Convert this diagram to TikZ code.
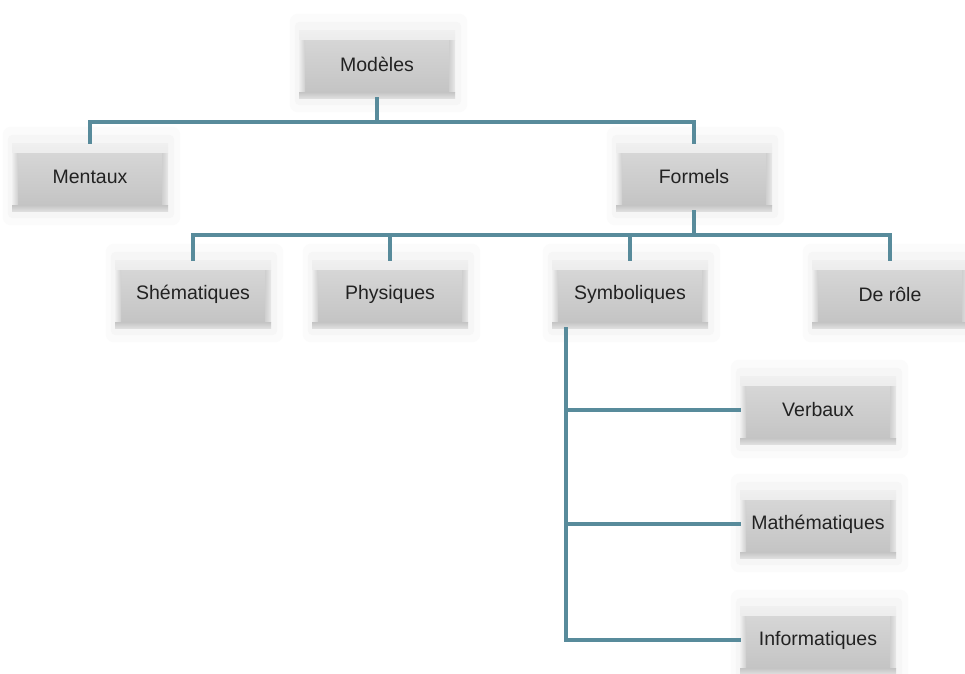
\documentclass[tikz,border=0pt]{standalone}
\usepackage{fontspec}
\setmainfont{Liberation Sans}
\usetikzlibrary{calc,backgrounds}
\definecolor{linkcol}{RGB}{88,139,155}
\definecolor{facetop}{RGB}{214,214,214}
\definecolor{facebot}{RGB}{196,196,196}
\definecolor{rimtop}{RGB}{240,240,240}
\definecolor{glowA}{RGB}{251,251,251}
\definecolor{glowB}{RGB}{246,246,246}
\definecolor{inktext}{RGB}{34,34,34}
\tikzset{
  box/.style={rectangle, minimum width=156pt, minimum height=68pt, inner sep=0pt,
    fill=facebot, text=inktext, font=\fontsize{19.5}{24}\selectfont,
    path picture={
      % bevelled face: bright top and left rims, lighter right rim, soft bottom rim
      \shade[top color=rimtop, bottom color=facetop]
        (path picture bounding box.north west) rectangle
        ($(path picture bounding box.north east)+(0,-10pt)$);
      \shade[top color=facetop, bottom color=facebot]
        ($(path picture bounding box.north west)+(6pt,-10pt)$) rectangle
        ($(path picture bounding box.south east)+(-6pt,6pt)$);
      \shade[left color=rimtop, right color=facetop!60!facebot]
        ($(path picture bounding box.north west)+(0,-10pt)$) rectangle
        ($(path picture bounding box.south west)+(6pt,6pt)$);
      \shade[left color=facetop!60!facebot, right color=rimtop!70!facetop]
        ($(path picture bounding box.north east)+(-6pt,-10pt)$) rectangle
        ($(path picture bounding box.south east)+(0,6pt)$);
      \shade[top color=facebot, bottom color=rimtop!60!facebot]
        ($(path picture bounding box.south west)+(0,6pt)$) rectangle
        (path picture bounding box.south east);
    }},
  link/.style={draw=linkcol, line width=3.3pt, line cap=rect}
}
% a box with its pale halo behind it
\newcommand\haloBox[3]{%
  \node[box] (#1) at (#2) {#3};
  \begin{scope}[on background layer]
    \fill[glowA, rounded corners=8pt]
      ($(#1.north west)+(-9pt,16pt)$) rectangle ($(#1.south east)+(12pt,-14pt)$);
    \fill[glowB, rounded corners=5pt]
      ($(#1.north west)+(-4pt,8pt)$) rectangle ($(#1.south east)+(6pt,-7pt)$);
  \end{scope}}
\begin{document}
\begin{tikzpicture}[x=1pt,y=-1pt]
  \begin{scope}[on background layer]
    \fill[white] (0,0) rectangle (965,673);
  \end{scope}
  \useasboundingbox (0,0) rectangle (965,673);

  \haloBox{mod}{377,64}{Modèles}
  \haloBox{ment}{90,177}{Mentaux}
  \haloBox{form}{694,177}{Formels}
  \haloBox{shem}{193,294}{Shématiques}
  \haloBox{phys}{390,294}{Physiques}
  \haloBox{sym}{630,294}{Symboliques}
  \haloBox{derole}{890,294}{De rôle}
  \haloBox{verb}{818,410}{Verbaux}
  \haloBox{math}{818,524}{Mathématiques}
  \haloBox{info}{818,640}{Informatiques}

  % levels of the tree
  \coordinate (barA) at (0,122);
  \coordinate (barB) at (0,235);
  \coordinate (trunk) at (566,0);

  \draw[link] (mod.south) -- (mod.south |- barA);
  \draw[link] (ment.north) -- (ment.north |- barA) -- (form.north |- barA) -- (form.north);

  \draw[link] (form.south) -- (form.south |- barB);
  \draw[link] (shem.north) -- (shem.north |- barB) -- (derole.north |- barB) -- (derole.north);
  \draw[link] (phys.north) -- (phys.north |- barB);
  \draw[link] (sym.north) -- (sym.north |- barB);

  \draw[link] (trunk |- sym.south) -- (trunk |- info.west) -- (info.west);
  \draw[link] (trunk |- verb.west) -- (verb.west);
  \draw[link] (trunk |- math.west) -- (math.west);
\end{tikzpicture}
\end{document}
